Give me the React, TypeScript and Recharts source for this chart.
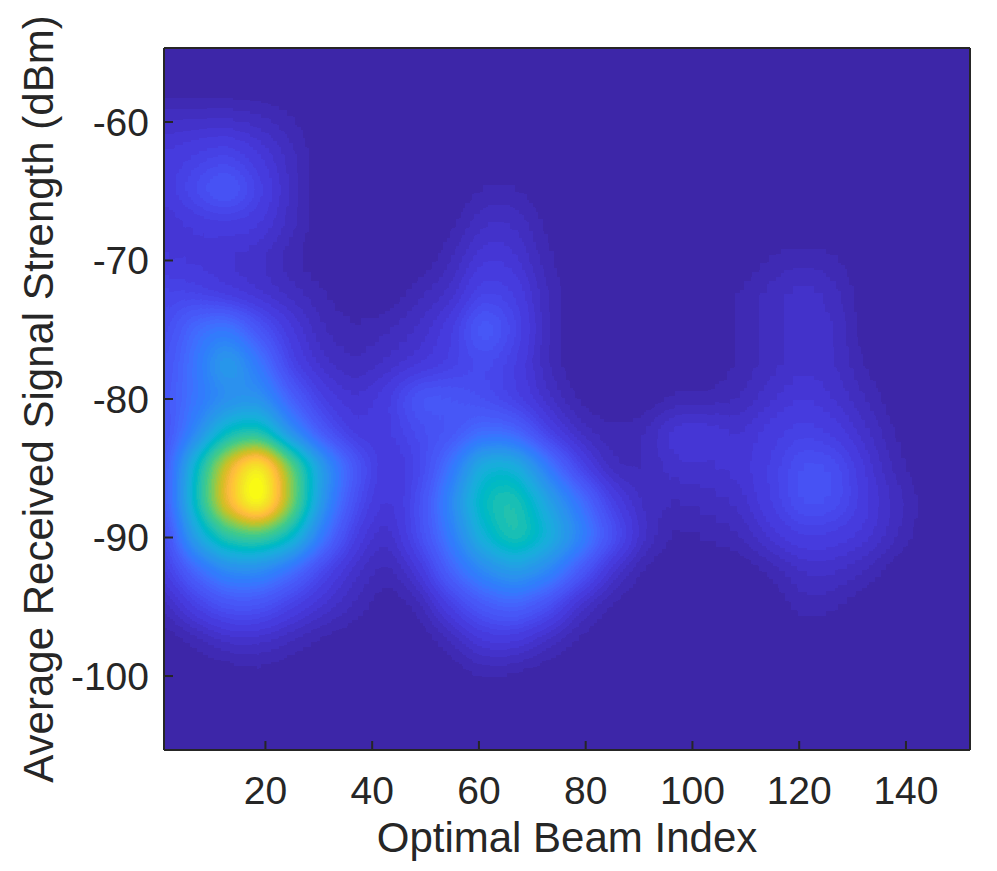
import React from "react";
import { ScatterChart, Scatter, XAxis, YAxis } from "recharts";

const beamIndex = [1, 7, 13, 19, 25, 31, 37, 43, 49, 55, 61, 67, 73, 79, 85, 91, 97, 103, 109, 115, 121, 127, 133, 139, 145, 151];
const signalLevels = [-55, -57.5, -60, -62.5, -65, -67.5, -70, -72.5, -75, -77.5, -80, -82.5, -85, -87.5, -90, -92.5, -95, -97.5, -100, -102.5, -105];
const xTicks = [20, 40, 60, 80, 100, 120, 140];
const yTicks = [-100, -90, -80, -70, -60];

// density, one row per signal level, one entry per beam index
const density = [
  [0,0,0,0,0,0,0,0,0,0,0,0,0,0,0,0,0,0,0,0,0,0,0,0,0,0],
  [0,0,0,0,0,0,0,0,0,0,0,0,0,0,0,0,0,0,0,0,0,0,0,0,0,0],
  [5,5,5,4,2,0,0,0,0,0,0,0,0,0,0,0,0,0,0,0,0,0,0,0,0,0],
  [8,10,12,8,4,0,0,0,0,0,0,0,0,0,0,0,0,0,0,0,0,0,0,0,0,0],
  [8,13,18,11,4,0,0,0,0,0,2,2,0,0,0,0,0,0,0,0,0,0,0,0,0,0],
  [6,8,9,8,4,0,0,0,0,1,5,5,1,0,0,0,0,0,0,0,0,0,0,0,0,0],
  [8,7,6,5,2,0,0,0,0,3,8,7,2,0,0,0,0,0,0,2,3,2,0,0,0,0],
  [12,11,8,6,4,2,0,0,3,5,12,10,3,0,0,0,0,0,2,4,6,4,0,0,0,0],
  [12,22,26,15,8,3,2,3,5,9,19,12,3,0,0,0,0,0,2,4,6,5,0,0,0,0],
  [14,24,38,25,10,5,3,5,7,10,13,10,3,0,0,0,0,0,2,4,6,5,1,0,0,0],
  [15,24,30,33,18,9,6,9,17,16,13,10,5,1,0,0,2,2,3,6,8,6,3,0,0,0],
  [13,28,48,52,30,15,8,9,13,15,22,20,10,4,2,3,8,8,6,9,11,9,5,1,0,0],
  [13,46,80,105,65,35,16,7,11,24,44,44,26,11,3,3,6,6,7,10,15,14,7,2,0,0],
  [13,48,84,110,68,32,13,6,13,30,50,54,38,24,10,4,3,4,5,10,15,14,8,4,0,0],
  [10,38,55,58,48,24,9,4,13,26,44,55,44,30,15,5,1,2,3,7,10,9,7,3,0,0],
  [8,20,30,30,22,11,5,2,7,20,30,36,30,17,6,1,0,0,0,2,5,5,3,0,0,0],
  [3,10,15,15,10,6,3,0,2,10,17,20,14,5,1,0,0,0,0,0,3,2,0,0,0,0],
  [0,2,5,5,3,1,0,0,0,3,8,8,4,1,0,0,0,0,0,0,0,0,0,0,0,0],
  [0,0,0,1,0,0,0,0,0,0,2,1,0,0,0,0,0,0,0,0,0,0,0,0,0,0],
  [0,0,0,0,0,0,0,0,0,0,0,0,0,0,0,0,0,0,0,0,0,0,0,0,0,0],
  [0,0,0,0,0,0,0,0,0,0,0,0,0,0,0,0,0,0,0,0,0,0,0,0,0,0],
];

// parula(64), red / green / blue columns
const parulaR = [.2422,.2504,.2578,.2647,.2706,.2751,.2783,.2803,.2813,.2810,.2795,.2760,.2699,.2602,.2440,.2206,.1963,.1834,.1786,.1764,.1687,.1540,.1460,.1380,.1248,.1113,.0952,.0689,.0297,.0036,.0067,.0433,.0964,.1408,.1717,.1938,.2161,.2470,.2906,.3406,.3909,.4456,.5044,.5616,.6174,.6720,.7242,.7738,.8203,.8634,.9035,.9393,.9728,.9956,.9970,.9952,.9892,.9786,.9676,.9610,.9597,.9628,.9691,.9769];
const parulaG = [.1504,.1650,.1818,.1978,.2147,.2342,.2559,.2782,.3006,.3228,.3447,.3667,.3892,.4123,.4358,.4603,.4847,.5074,.5289,.5499,.5703,.5902,.6091,.6276,.6459,.6635,.6798,.6948,.7082,.7203,.7312,.7411,.7500,.7584,.7670,.7758,.7843,.7918,.7973,.8008,.8029,.8024,.7993,.7942,.7876,.7793,.7698,.7598,.7498,.7406,.7330,.7288,.7298,.7434,.7659,.7893,.8136,.8386,.8639,.8890,.9135,.9373,.9606,.9839];
const parulaB = [.6603,.7076,.7511,.7952,.8364,.8710,.8991,.9221,.9414,.9579,.9717,.9829,.9906,.9952,.9988,.9973,.9892,.9798,.9682,.9520,.9359,.9218,.9079,.8973,.8883,.8763,.8598,.8394,.8163,.7917,.7660,.7394,.7120,.6842,.6554,.6251,.5923,.5567,.5188,.4789,.4354,.3909,.3480,.3045,.2612,.2227,.1910,.1646,.1535,.1596,.1774,.2100,.2394,.2371,.2199,.2028,.1885,.1766,.1643,.1537,.1423,.1265,.1064,.0805];

const HEADROOM = 125; // density mapped to grey = density / HEADROOM
const table = (col: number[]) => {
  const top = col[col.length - 1];
  return [...col, ...Array(16).fill(top)].join(" ");
};

const cells = signalLevels.flatMap((y, r) =>
  beamIndex.map((x, c) => ({ x, y, v: density[r][c], r, c }))
);

const CellShape = (p: any) => {
  const { cx, cy, payload } = p;
  const g = Math.round((payload.v / HEADROOM) * 255);
  const w = 34;
  const h = 37;
  const left = payload.c === 0 ? 80 : w / 2;
  const right = payload.c === beamIndex.length - 1 ? 80 : w / 2;
  const top = payload.r === 0 ? 80 : h / 2;
  const bottom = payload.r === signalLevels.length - 1 ? 80 : h / 2;
  return <rect x={cx - left} y={cy - top} width={left + right} height={top + bottom} fill={`rgb(${g},${g},${g})`} />;
};

const ink = "#262626";
const font = "'Liberation Sans', Arial, sans-serif";
const tickStyle = { fontSize: 39, fill: ink, fontFamily: font };
const axisLine = { stroke: ink, strokeWidth: 2 };
const Z = { zIndex: 900 } as any;

export default function App() {
  return (
    <div style={{ position: "absolute", left: 0, top: 0, width: 997, height: 871 }}>
      <style>{`.recharts-scatter { filter: url(#contour); clip-path: url(#plotClip); }`}</style>
      <svg width={0} height={0} style={{ position: "absolute" }}>
        <defs>
          <filter id="contour" filterUnits="userSpaceOnUse" x={0} y={0} width={997} height={871} colorInterpolationFilters="sRGB">
            <feGaussianBlur stdDeviation={14} />
            <feComponentTransfer>
              <feFuncR type="discrete" tableValues={table(parulaR)} />
              <feFuncG type="discrete" tableValues={table(parulaG)} />
              <feFuncB type="discrete" tableValues={table(parulaB)} />
            </feComponentTransfer>
          </filter>
          <clipPath id="plotClip" clipPathUnits="userSpaceOnUse">
            <rect x={164} y={48} width={806} height={702} />
          </clipPath>
        </defs>
      </svg>
      <ScatterChart width={997} height={871} margin={{ top: 0, right: 0, bottom: 0, left: 0 }}>
        <Scatter data={cells} dataKey="v" shape={CellShape} isAnimationActive={false} {...({ zIndex: 100 } as any)} />
        <XAxis
          {...Z}
          type="number"
          dataKey="x"
          domain={[1, 152]}
          ticks={xTicks}
          height={121}
          tickSize={-9}
          tickMargin={35}
          tick={tickStyle}
          tickLine={axisLine}
          axisLine={axisLine}
          label={{ value: "Optimal Beam Index", position: "insideBottom", offset: 19, style: { fontSize: 42, fill: ink, fontFamily: font } }}
        />
        <YAxis
          {...Z}
          type="number"
          dataKey="y"
          domain={[-105.34, -54.66]}
          ticks={yTicks}
          width={164}
          tickSize={-9}
          tickMargin={24}
          tick={tickStyle}
          tickLine={axisLine}
          axisLine={axisLine}
          label={{ value: "Average Received Signal Strength (dBm)", angle: -90, position: "insideLeft", offset: 38, style: { fontSize: 42, fill: ink, fontFamily: font, textAnchor: "middle" } }}
        />
        <XAxis {...Z} xAxisId="top" orientation="top" type="number" domain={[1, 152]} ticks={xTicks} height={48} tickSize={-9} tick={false} tickLine={axisLine} axisLine={axisLine} />
        <YAxis {...Z} yAxisId="right" orientation="right" type="number" domain={[-105.34, -54.66]} ticks={yTicks} width={27} tickSize={-9} tick={false} tickLine={axisLine} axisLine={axisLine} />
      </ScatterChart>
    </div>
  );
}
